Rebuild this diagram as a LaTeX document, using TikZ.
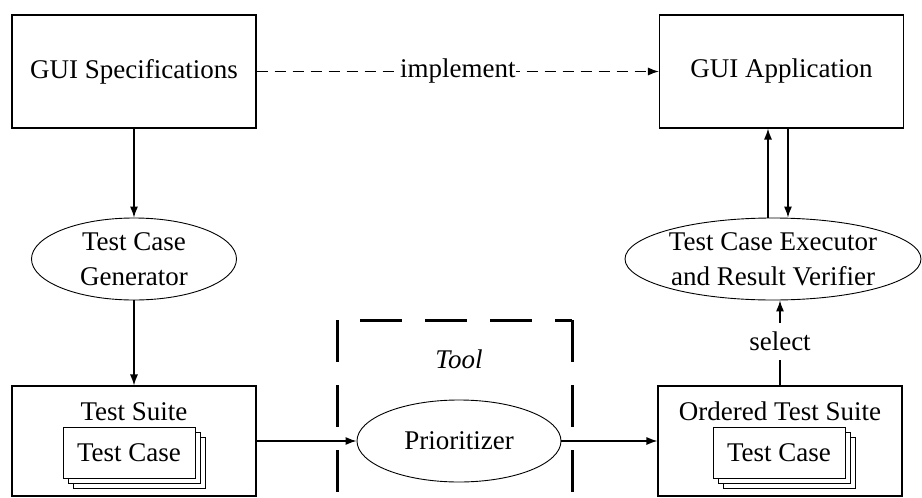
\documentclass[tikz,border=0pt]{standalone}
\usepackage{fontspec}
\setmainfont{Liberation Serif}
\usetikzlibrary{arrows.meta,positioning,shapes.geometric}

\tikzset{
  box/.style={draw, line width=1.1pt, minimum width=244pt, minimum height=113pt, inner sep=0pt},
  oval/.style={draw, ellipse, line width=0.9pt, inner sep=0pt, align=center, minimum height=82pt},
  card/.style={draw, fill=white, line width=0.9pt, minimum width=132pt, minimum height=51pt, inner sep=0pt},
  flow/.style={line width=1.2pt, -{Latex[length=11pt,width=8pt]}},
}

\begin{document}
\begin{tikzpicture}[x=1pt,y=-1pt,font=\fontsize{27}{35}\selectfont]
    \useasboundingbox (0,0) rectangle (922,498);
    % top row
    \node[box] (spec) at (134,71.5) {GUI Specifications};
    \node[box] (app) at (781.5,71.5) {GUI Application};
    % ellipses
    \node[oval, minimum width=205pt] (gen) at (134,259) {Test Case\\Generator};
    \node[oval, minimum width=296pt] (exec) at (773,259) {Test Case Executor\\and Result Verifier};
    \node[oval, minimum width=204pt] (prio) at (459,441) {Prioritizer};
    % suites
    \node[box, minimum height=110pt] (suite) at (134,441) {};
    \node[box, minimum height=110pt] (ordered) at (780,441) {};
    \node[anchor=base] (suitelbl) at (134,420) {Test Suite};
    \node[anchor=base] (orderedlbl) at (780,420) {Ordered Test Suite};
    \foreach \d in {10,5}{\draw[line width=0.9pt, fill=white] (63+\d,427+\d) rectangle +(132,51);
    \draw[line width=0.9pt, fill=white] (713+\d,427+\d) rectangle +(132,51);}
    \node[card] (case1) at (129,452.5) {Test Case};
    \node[card] (case2) at (779,452.5) {Test Case};
    % tool frame
    \draw[line width=3pt, dash pattern=on 42pt off 23pt] (337,320) -- (337,498);
    \draw[line width=3pt, dash pattern=on 42pt off 23pt, dash phase=42pt] (337,320) -- (572,320);
    \draw[line width=3pt, dash pattern=on 42pt off 23pt] (572,320) -- (572,498);
    \node[font=\fontsize{27}{35}\selectfont\itshape] (tool) at (459,359) {Tool};
    % connectors
    \draw[flow, dash pattern=on 11pt off 7pt] (spec) -- node[fill=white, inner sep=1pt] (impl) {implement} (app);
    \draw[flow] (spec) -- (gen);
    \draw[flow] (gen) -- (suite);
    \draw[flow] (suite) -- (prio);
    \draw[flow] (prio) -- (ordered);
    \draw[flow] ([xshift=-5pt]exec.north) -- ([xshift=-13.5pt]app.south);
    \draw[flow] ([xshift=6.5pt]app.south) -- ([xshift=15pt]exec.north);
    \node[inner sep=9pt] (sel) at (780,341.5) {select};
    \draw[line width=1.2pt] (ordered.north) -- (sel.south);
    \draw[flow] (sel.north) -- (sel.north |- exec.south);
\end{tikzpicture}
\end{document}
